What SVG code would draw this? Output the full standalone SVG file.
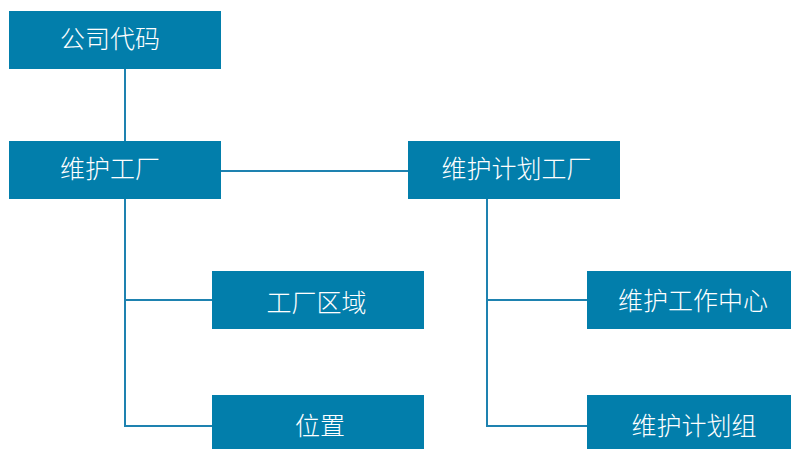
<svg xmlns="http://www.w3.org/2000/svg" width="791" height="449" viewBox="0 0 791 449">
<style>
.box{fill:#027EAB}
.lbl{fill:#ffffff;font-family:"Noto Sans CJK SC","Noto Sans",sans-serif;font-size:25px;font-weight:300;text-anchor:middle}
.ln{fill:none;stroke:#1E82B0;stroke-width:2}
</style>
<rect width="791" height="449" fill="#ffffff"/>
<g id="connectors">
<path class="ln" d="M125,69V141"/>
<path class="ln" d="M221,171H408"/>
<path class="ln" d="M125,199V426H212M125,300H212"/>
<path class="ln" d="M487,199V426H587M487,300H587"/>
</g>
<g id="n1"><rect class="box" x="9" y="11" width="212" height="58"/><text class="lbl" x="110" y="48">公司代码</text></g>
<g id="n2"><rect class="box" x="9" y="141" width="212" height="58"/><text class="lbl" x="110" y="177.5">维护工厂</text></g>
<g id="n3"><rect class="box" x="408" y="141" width="212" height="58"/><text class="lbl" x="516.5" y="177.5">维护计划工厂</text></g>
<g id="n4"><rect class="box" x="212" y="271" width="212" height="58"/><text class="lbl" x="316.5" y="311.5">工厂区域</text></g>
<g id="n5"><rect class="box" x="212" y="395" width="212" height="58"/><text class="lbl" x="320" y="435">位置</text></g>
<g id="n6"><rect class="box" x="587" y="271" width="204" height="58"/><text class="lbl" x="693" y="309.5">维护工作中心</text></g>
<g id="n7"><rect class="box" x="587" y="395" width="204" height="58"/><text class="lbl" x="694" y="435">维护计划组</text></g>
</svg>
